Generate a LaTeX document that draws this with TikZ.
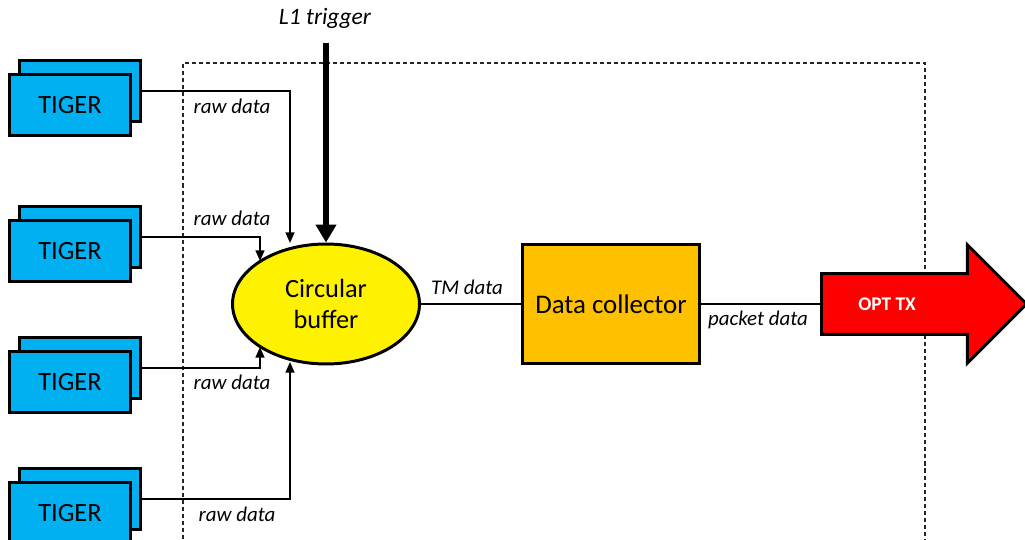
\documentclass[tikz,border=0pt]{standalone}
\usepackage{fontspec}
\setmainfont{Carlito}
\usetikzlibrary{arrows.meta,shapes.geometric,shapes.arrows}

\definecolor{tigerblue}{HTML}{00B0F0}
\definecolor{collorange}{HTML}{FFC000}

\tikzset{
  tiger/.style={draw, line width=1.7pt, fill=tigerblue, minimum width=2.42cm,
    minimum height=1.22cm, inner sep=0pt, font=\fontsize{15}{18}\selectfont},
  lbl/.style={font=\fontsize{11.9}{14}\selectfont\itshape},
  link/.style={line width=1pt, -{Triangle[width=5pt,length=6pt]}},
}

\begin{document}
\begin{tikzpicture}[x=0.02cm, y=-0.02cm]
        \useasboundingbox (0,0) rectangle (1025,540);

        % Frame
        \draw[line width=0.6pt, black!85, dash pattern=on 2.3pt off 1.7pt]
          (183,560) -- (183,63) -- (925,63) -- (925,560);

        % Pieces
        \foreach \i/\y in {1/105, 2/251, 3/382, 4/513} {
          \node[tiger] (B\i) at (80,\y-14) {};
          \node[tiger] (T\i) at (70,\y) {TIGER};
        }
        \node[ellipse, draw, line width=1.7pt, fill=yellow, minimum width=3.74cm,
          minimum height=2.4cm, align=center, font=\fontsize{15}{18}\selectfont]
          (CB) at (326,304) {Circular\\buffer};
        \node[draw, line width=1.7pt, fill=collorange, minimum width=3.56cm,
          minimum height=2.38cm, font=\fontsize{15.3}{18}\selectfont]
          (DC) at (611,304) {Data collector};
        \node[single arrow, draw, line width=1.7pt, fill=red, minimum height=4.1cm,
          inner xsep=0pt, inner ysep=0.58cm, single arrow head extend=0.57cm,
          anchor=tail] (TX) at (820,304) {};
        \node[font=\fontsize{11}{13}\selectfont\bfseries, text=white] (TXt) at (887,304) {OPT TX};

        % Labels
        \node[font=\fontsize{13.4}{15}\selectfont\itshape] (L1) at (325,18) {L1 trigger};
        \node[lbl] (R1) at (232,106) {raw data};
        \node[lbl] (R2) at (232,218) {raw data};
        \node[lbl] (R3) at (232,382) {raw data};
        \node[lbl] (R4) at (237,514) {raw data};
        \node[lbl] (TM) at (467,287) {TM data};
        \node[lbl] (PD) at (758,320) {packet data};

        % Arrows
        \coordinate (in1) at (290,243);
        \coordinate (in2) at (260,261);
        \coordinate (in3) at (260,347);
        \coordinate (in4) at (290,362);
        \draw[link] (B1.east) -| (in1);
        \draw[link] (B2.east) -| (in2);
        \draw[link] (B3.east) -| (in3);
        \draw[link] (B4.east) -| (in4);
        \draw[line width=3.4pt, shorten <=5pt, -{Triangle[width=0.4cm,length=0.36cm]}]
          (CB.north |- L1.south) -- (CB.north);
        \draw[line width=1pt] (CB.east) -- (DC.west);
        \draw[line width=1pt] (DC.east) -- (TX.tail);
\end{tikzpicture}
\end{document}
